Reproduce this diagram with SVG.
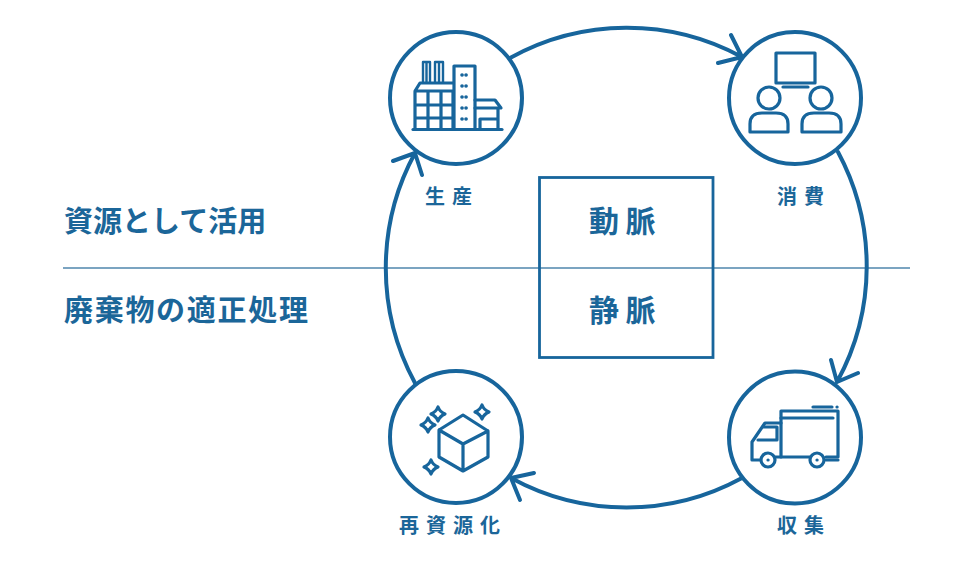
<svg xmlns="http://www.w3.org/2000/svg" width="970" height="563" viewBox="0 0 970 563">
<style>
.s{fill:none;stroke:#17659c;stroke-linecap:round;stroke-linejoin:round}
.c{fill:#fff;stroke:#17659c;stroke-width:4}
.a{stroke-width:4}
.i{stroke-width:3.200}
.t{font-family:"Noto Sans CJK JP","Noto Sans",sans-serif;font-weight:700;fill:#1b6699}
.h{font-size:29px}
.l{font-size:20px;letter-spacing:7px;text-anchor:start}
.m{font-size:30px;letter-spacing:6.500px}
</style>
<rect width="970" height="563" fill="#fff"/>
<g id="divider"><line x1="63" y1="268" x2="910" y2="268" stroke="#4f86ad" stroke-width="1.600"/></g>
<g id="center-box"><rect x="539.500" y="177.500" width="173.500" height="180" fill="none" stroke="#17659c" stroke-width="2.800"/>
<text class="t m" x="589" y="232">動脈</text>
<text class="t m" x="589" y="321">静脈</text></g>
<g id="connectors" class="s a">
<path d="M510 58A241 241 0 0 1 742 57M731 35L742 57L718 63"/>
<path d="M838 152A241 241 0 0 1 837 382M831 360L837 382L858 373"/>
<path d="M742 478A241 241 0 0 1 511 478M534 473L511 478L520 500"/>
<path d="M415 383A241 241 0 0 1 415 153M393 161L415 153L422 175"/>
</g>
<g id="label-left"><text class="t h" x="64" y="232">資源として活用</text>
<text class="t h" x="64" y="321" letter-spacing="1.700">廃棄物の適正処理</text></g>
<g id="node-seisan"><circle class="c" cx="456" cy="98" r="66"/>
<g class="s i">
<path d="M413 129.500H502"/>
<path d="M415 129V91M453 83H420L415 91H453M453 91V129M428 91V129M441 91V129M415 105H453M415 118H453"/>
<path d="M423 82V62H430V82M426.500 63V82M435 82V62H443V82M439 63V82" stroke-width="2.400"/>
<path d="M454 129V66H475V129"/>
<path d="M475 100H495L501 108H475M498 108V129M480 129V119H498"/>
<path d="M462 75h.1M466 75h.1M462 86h.1M466 86h.1M462 97h.1M466 97h.1M462 108h.1M466 108h.1M462 119h.1M466 119h.1" stroke-width="3.600"/>
</g><text class="t l" x="425" y="204">生産</text></g>
<g id="node-shohi"><circle class="c" cx="795" cy="98" r="66"/>
<g class="s i">
<rect x="776" y="53" width="39" height="30"/>
<path d="M783 87H808"/>
<circle cx="769" cy="98" r="11"/><circle cx="821" cy="98" r="11"/>
<path d="M750 132V124Q750 113 762 113H776Q788 113 788 124V132Z"/>
<path d="M802 132V124Q802 113 814 113H829Q841 113 841 124V132Z"/>
</g><text class="t l" x="777" y="204">消費</text></g>
<g id="node-shushu"><circle class="c" cx="795" cy="437.500" r="66"/>
<g class="s i">
<path d="M781 457V411H838V457H826"/>
<path d="M781 418H833M813 407H832M837 407h.1"/>
<path d="M810 457H775"/>
<path d="M781 423H765L752 442V460H760"/>
<path d="M777 427V440H758M777 427H764"/>
<path d="M826 460H838"/>
<circle cx="768" cy="460" r="7"/><circle cx="817" cy="460" r="7"/>
<path d="M768 460h.1M817 460h.1"/>
</g><text class="t l" x="777" y="533">収集</text></g>
<g id="node-saishigen"><circle class="c" cx="456" cy="437" r="66"/>
<g class="s i">
<path d="M463 415L488 431V457L463 471L439 457V430ZM439 430L463 444L488 431M463 444V471"/>
<path d="M438 407Q440 412 445 414Q440 416 438 421Q436 416 431 414Q436 412 438 407Z"/>
<path d="M428 418Q430 423 435 425Q430 427 428 432Q426 427 421 425Q426 423 428 418Z"/>
<path d="M482 405Q484 410 489 412Q484 414 482 419Q480 414 475 412Q480 410 482 405Z"/>
<path d="M431 460Q433 465 438 467Q433 469 431 474Q429 469 424 467Q429 465 431 460Z"/>
</g><text class="t l" x="399" y="533">再資源化</text></g>
</svg>
